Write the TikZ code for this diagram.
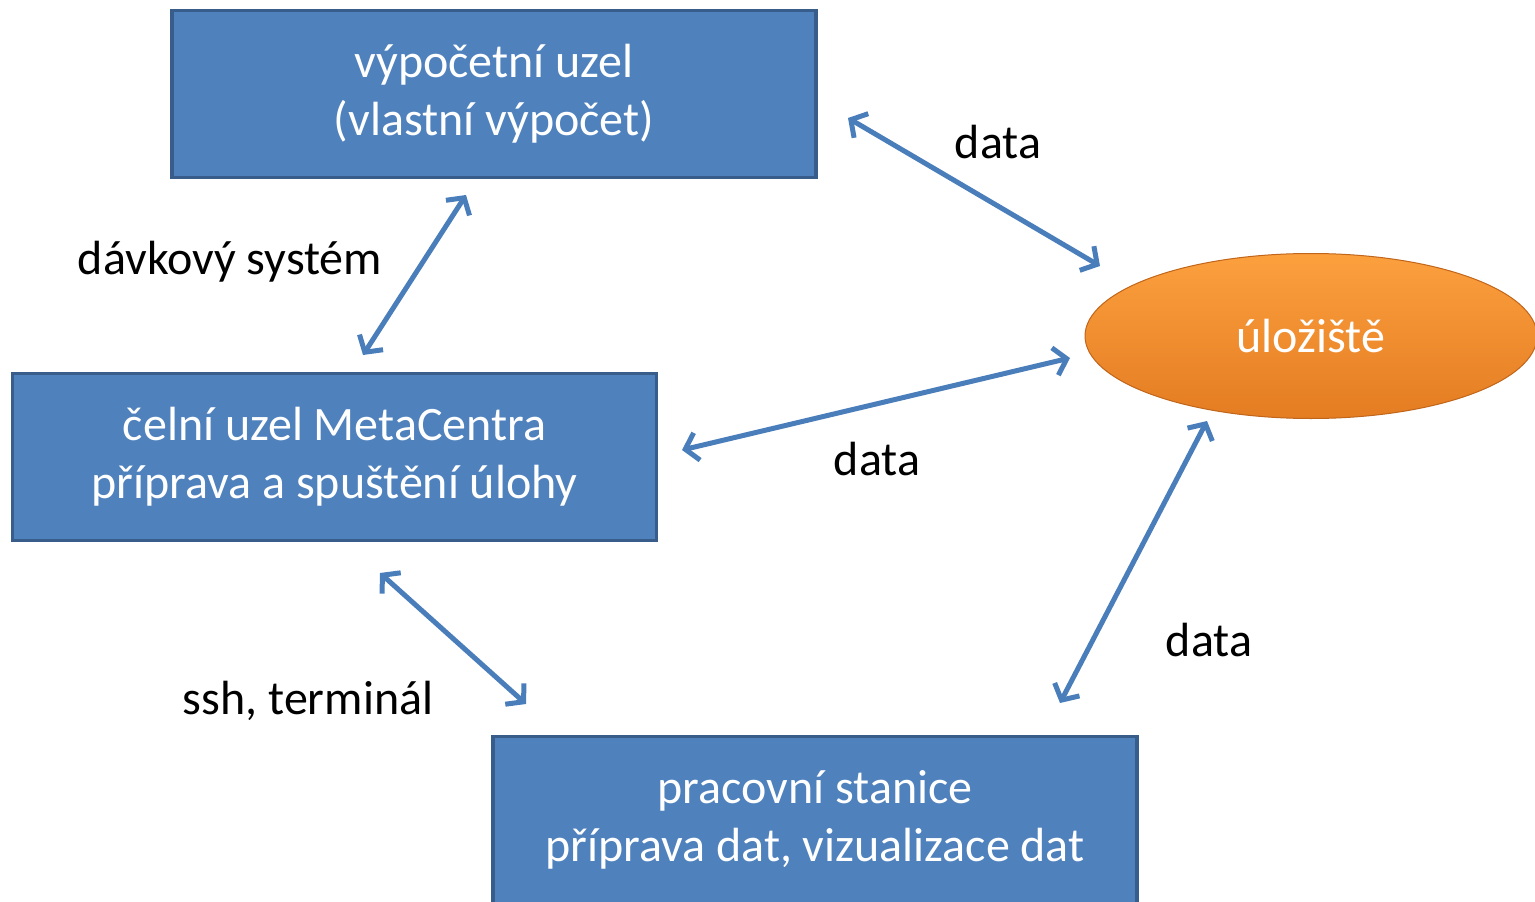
\documentclass[tikz,border=0pt]{standalone}
\usepackage{fontspec}
\setmainfont{Carlito}
\usetikzlibrary{arrows.meta,shapes.geometric}
\definecolor{boxfill}{HTML}{4F81BD}
\definecolor{boxline}{HTML}{385D8A}
\definecolor{arrowblue}{HTML}{4A7EBB}
\definecolor{storetop}{HTML}{FCA03E}
\definecolor{storebot}{HTML}{E47C22}
\definecolor{storeline}{HTML}{C0651A}
\begin{document}
\begin{tikzpicture}[x=1pt,y=-1pt,
    box/.style={rectangle, fill=boxfill, draw=boxline, line width=3.5pt,
      minimum width=644pt, minimum height=167pt, inner sep=0pt,
      align=center, text=white, font=\fontsize{48}{58}\selectfont},
    store/.style={ellipse, draw=storeline, line width=1pt,
      top color=storetop, bottom color=storebot,
      minimum width=452pt, minimum height=165pt, inner sep=0pt,
      text=white, font=\fontsize{48}{58}\selectfont},
    lbl/.style={font=\fontsize{48}{58}\selectfont},
    link/.style={{Straight Barb[length=12pt,width=28pt,line width=5pt]}-{Straight Barb[length=12pt,width=28pt,line width=5pt]},
      draw=arrowblue, line width=5pt}]
  \useasboundingbox (0,0) rectangle (1535,902);

  \node[box] (compute) at (494, 94) {výpočetní uzel\\(vlastní výpočet)};
  \node[box] (front) at (334.5, 457) {čelní uzel MetaCentra\\příprava a spuštění úlohy};
  \node[box] (station) at (815, 820) {pracovní stanice\\příprava dat, vizualizace dat};
  \node[store] (storage) at (1311, 336) {úložiště};

  \coordinate (c1) at (848, 118);  \coordinate (s1) at (1100, 266);
  \coordinate (c2) at (466, 195);  \coordinate (f2) at (363, 355);
  \coordinate (s3) at (1070, 358); \coordinate (f3) at (682, 450);
  \coordinate (f4) at (380, 573);  \coordinate (w4) at (526, 704);
  \coordinate (s5) at (1207, 421); \coordinate (w5) at (1060, 703);

  \draw[link] (c1) -- (s1);
  \draw[link] (c2) -- (f2);
  \draw[link] (s3) -- (f3);
  \draw[link] (f4) -- (w4);
  \draw[link] (s5) -- (w5);

  \node[lbl] (l1) at (998, 142) {data};
  \node[lbl] (l2) at (230, 262) {dávkový systém};
  \node[lbl] (l3) at (877, 459) {data};
  \node[lbl] (l4) at (308, 701) {ssh, terminál};
  \node[lbl] (l5) at (1209, 640) {data};
\end{tikzpicture}
\end{document}
